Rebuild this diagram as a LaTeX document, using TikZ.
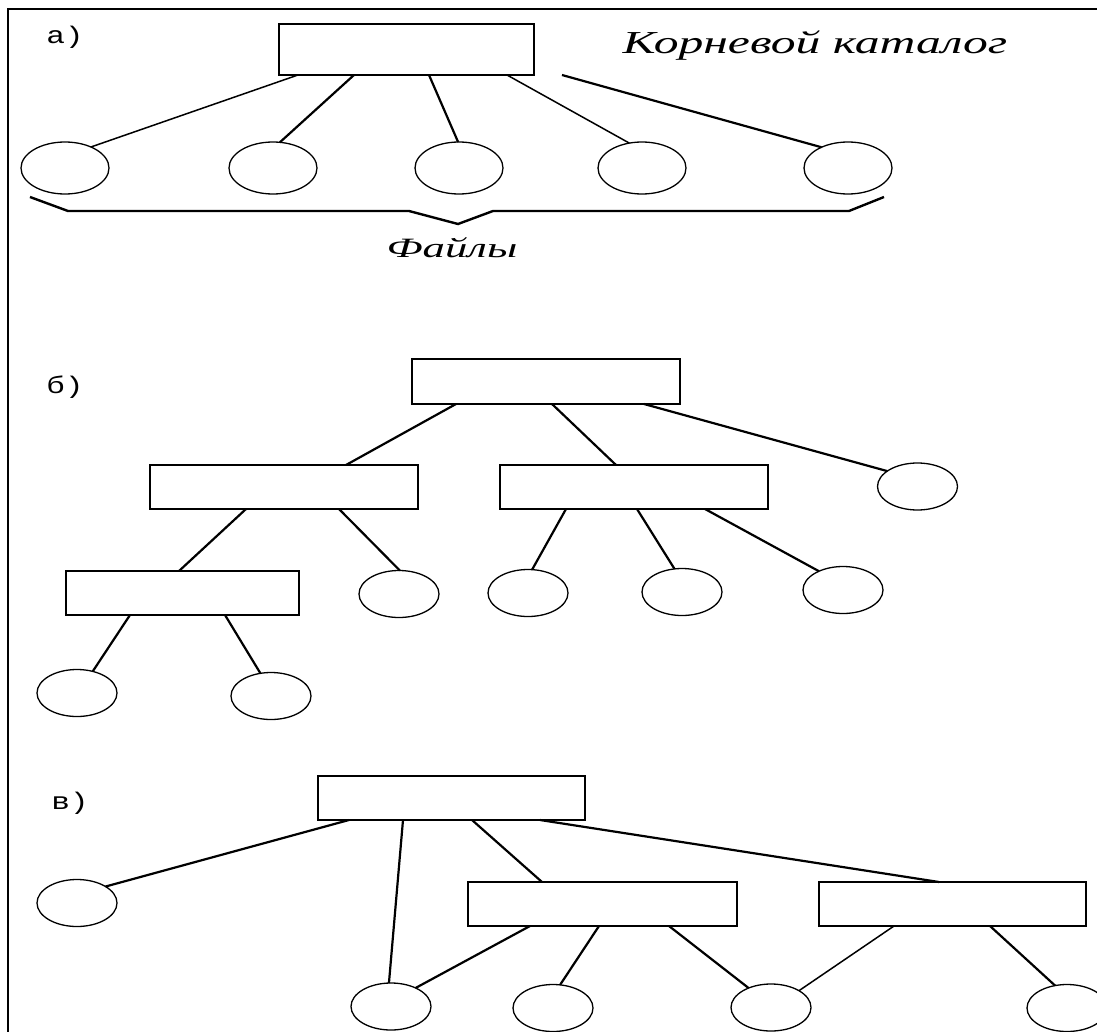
\documentclass[tikz,border=0pt]{standalone}
\usepackage{fontspec}
\usepackage{graphicx}
\setmainfont{Liberation Serif}
\newfontfamily\labfont{Liberation Mono}
\usetikzlibrary{shapes.geometric}
\begin{document}
\begin{tikzpicture}[x=1pt,y=-1pt,
  box/.style={draw, line width=1.6pt, rectangle, inner sep=0pt, outer sep=0pt},
  leaf/.style={draw, line width=1.3pt, ellipse, inner sep=0pt, outer sep=0pt, minimum width=80pt, minimum height=47pt},
  leafa/.style={leaf, minimum width=88pt, minimum height=52pt},
  link/.style={line width=2.2pt},
  thin link/.style={line width=1.5pt},
  lab/.style={font=\labfont\fontsize{24}{24}\selectfont, inner sep=0pt},
  caption/.style={font=\itshape, inner sep=0pt}]
\clip (0,0) rectangle (1097,1032);
\fill[white] (0,0) rectangle (1097,1032);
% frame
\draw[line width=2.2pt] (8,1032) -- (8,9) -- (1097,9);

% ---------- a) ----------
\node[lab] (la) at (65,37) {\scalebox{1.3}[1]{а)}};
\node[box, minimum width=255pt, minimum height=51pt] (ra) at (406.5,49.5) {};
\node[caption] (tra) at (815,46) {\fontsize{32}{32}\selectfont\scalebox{1.55}[1]{Корневой каталог}};
\node[leafa] (a1) at (65,168) {};
\node[leafa] (a2) at (273,168) {};
\node[leafa] (a3) at (459,168) {};
\node[leafa] (a4) at (642,168) {};
\node[leafa] (a5) at (848,168) {};
\draw[thin link] ([xshift=19pt]ra.south west) -- (a1.39);
\draw[link] ([xshift=75pt]ra.south west) -- (a2.75);
\draw[link] ([xshift=150pt]ra.south west) -- (a3.92);
\draw[thin link] ([xshift=228pt]ra.south west) -- (a4.117);
\draw[link] ([xshift=283pt]ra.south west) -- (a5.142);
% brace
\coordinate (b0) at (30,197);
\coordinate (b1) at (68,211);
\coordinate (b2) at (409,211);
\coordinate (bt) at (458,224);
\coordinate (b3) at (493,211);
\coordinate (b4) at (849,211);
\coordinate (b5) at (884,197);
\draw[line width=2.4pt, line join=miter] (b0) -- (b1) -- (b2) -- (bt) -- (b3) -- (b4) -- (b5);
\node[caption] (tfa) at (452,248) {\fontsize{28}{28}\selectfont\scalebox{1.6}[1]{Файлы}};

% ---------- б) ----------
\node[lab] (lb) at (65,387) {\scalebox{1.3}[1]{б)}};
\node[box, minimum width=268pt, minimum height=45pt] (rb) at (546,381.5) {};
\node[box, minimum width=268pt, minimum height=44pt] (rb1) at (284,487) {};
\node[box, minimum width=268pt, minimum height=44pt] (rb2) at (634,487) {};
\node[box, minimum width=233pt, minimum height=44pt] (rb3) at (182.5,593) {};
\node[leaf] (cb1) at (917.5,486.5) {};
\node[leaf] (cb2) at (399,594) {};
\node[leaf] (cb3) at (77,693) {};
\node[leaf] (cb4) at (271,696) {};
\node[leaf] (cb5) at (528,593) {};
\node[leaf] (cb6) at (682,592) {};
\node[leaf] (cb7) at (843,590) {};
\draw[link] ([xshift=44pt]rb.south west) -- ([xshift=196pt]rb1.north west);
\draw[link] ([xshift=140pt]rb.south west) -- ([xshift=116pt]rb2.north west);
\draw[link] ([xshift=232pt]rb.south west) -- (cb1.153);
\draw[link] ([xshift=96pt]rb1.south west) -- ([xshift=113pt]rb3.north west);
\draw[link] ([xshift=189pt]rb1.south west) -- (cb2.88);
\draw[link] ([xshift=64pt]rb3.south west) -- (cb3.54);
\draw[link] ([xshift=159pt]rb3.south west) -- (cb4.115);
\draw[link] ([xshift=66pt]rb2.south west) -- (cb5.80);
\draw[link] ([xshift=137pt]rb2.south west) -- (cb6.108);
\draw[link] ([xshift=205pt]rb2.south west) -- (cb7.142);

% ---------- в) ----------
\node[lab] (lc) at (70,803) {\scalebox{1.3}[1]{в)}};
\node[box, minimum width=267pt, minimum height=44pt] (rc) at (451.5,798) {};
\node[box, minimum width=269pt, minimum height=44pt] (rc1) at (602.5,904) {};
\node[box, minimum width=267pt, minimum height=44pt] (rc2) at (952.5,904) {};
\node[leaf] (cc1) at (77,903) {};
\node[leaf] (cc2) at (391,1006.5) {};
\node[leaf] (cc3) at (553,1008) {};
\node[leaf] (cc4) at (771,1007.5) {};
\node[leaf] (cc5) at (1067,1008) {};
\draw[link] ([xshift=31pt]rc.south west) -- (cc1.30);
\draw[link] ([xshift=85pt]rc.south west) -- (cc2.95);
\draw[link] ([xshift=154pt]rc.south west) -- ([xshift=74pt]rc1.north west);
\draw[link] ([xshift=222pt]rc.south west) -- ([xshift=120pt]rc2.north west);
\draw[link] ([xshift=62pt]rc1.south west) -- (cc2.37);
\draw[link] ([xshift=131pt]rc1.south west) -- (cc3.73);
\draw[link] ([xshift=201pt]rc1.south west) -- (cc4.139);
\draw[thin link] ([xshift=75pt]rc2.south west) -- (cc4.31);
\draw[link] ([xshift=171pt]rc2.south west) -- (cc5.118);
\end{tikzpicture}
\end{document}
